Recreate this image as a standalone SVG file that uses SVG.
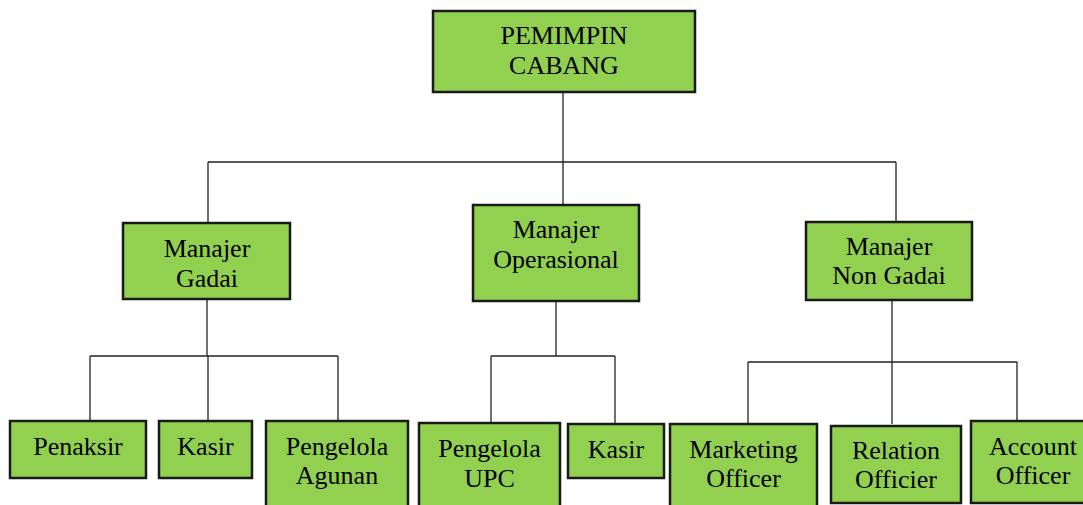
<svg xmlns="http://www.w3.org/2000/svg" width="1083" height="505" viewBox="0 0 1083 505">
<style>
.box{fill:#92d050;stroke:#1a1a1a;stroke-width:2.5}
.t{font-family:'Liberation Serif','Times New Roman',Times,'DejaVu Serif',serif;font-size:26px;fill:#000;text-anchor:middle}
.c{fill:none;stroke:#222;stroke-width:1.3}
</style>
<rect width="1083" height="505" fill="#fff"/>
<g id="connectors">
<path class="c" d="M563 92V162M208 162H896M208 162V223M563 162V205M896 162V222"/>
<path class="c" d="M207 300V356M90 356H338M90 356V421M208 356V421M338 356V421"/>
<path class="c" d="M556 301V356M491 356H615M491 356V423M615 356V424"/>
<path class="c" d="M892 300V424M748 362H1017M748 362V424M1017 362V421"/>
</g>
<g id="pemimpin"><rect class="box" x="433" y="11" width="262" height="81"/><text class="t" x="564" y="44">PEMIMPIN</text><text class="t" x="564" y="74">CABANG</text></g>
<g id="manajer-gadai"><rect class="box" x="123" y="223" width="167" height="76"/><text class="t" x="207" y="257">Manajer</text><text class="t" x="207" y="287">Gadai</text></g>
<g id="manajer-operasional"><rect class="box" x="473" y="205" width="166" height="96"/><text class="t" x="556" y="238">Manajer</text><text class="t" x="556" y="268">Operasional</text></g>
<g id="manajer-non-gadai"><rect class="box" x="806" y="222" width="166" height="78"/><text class="t" x="889" y="255">Manajer</text><text class="t" x="889" y="284">Non Gadai</text></g>
<g id="penaksir"><rect class="box" x="10" y="421" width="136" height="57"/><text class="t" x="78" y="455">Penaksir</text></g>
<g id="kasir-gadai"><rect class="box" x="159" y="421" width="93" height="57"/><text class="t" x="205.5" y="455">Kasir</text></g>
<g id="pengelola-agunan"><rect class="box" x="266" y="421" width="142" height="95"/><text class="t" x="337" y="455">Pengelola</text><text class="t" x="337" y="484">Agunan</text></g>
<g id="pengelola-upc"><rect class="box" x="419" y="423" width="141" height="95"/><text class="t" x="489.5" y="457">Pengelola</text><text class="t" x="489.5" y="487">UPC</text></g>
<g id="kasir-operasional"><rect class="box" x="568" y="424" width="96" height="54"/><text class="t" x="616" y="458">Kasir</text></g>
<g id="marketing-officer"><rect class="box" x="670" y="424" width="147" height="95"/><text class="t" x="743.5" y="458">Marketing</text><text class="t" x="743.5" y="487">Officer</text></g>
<g id="relation-officier"><rect class="box" x="831" y="426" width="130" height="77"/><text class="t" x="896" y="459">Relation</text><text class="t" x="896" y="488">Officier</text></g>
<g id="account-officer"><rect class="box" x="971" y="421" width="130" height="82"/><text class="t" x="1033" y="455">Account</text><text class="t" x="1033" y="484">Officer</text></g>
</svg>
